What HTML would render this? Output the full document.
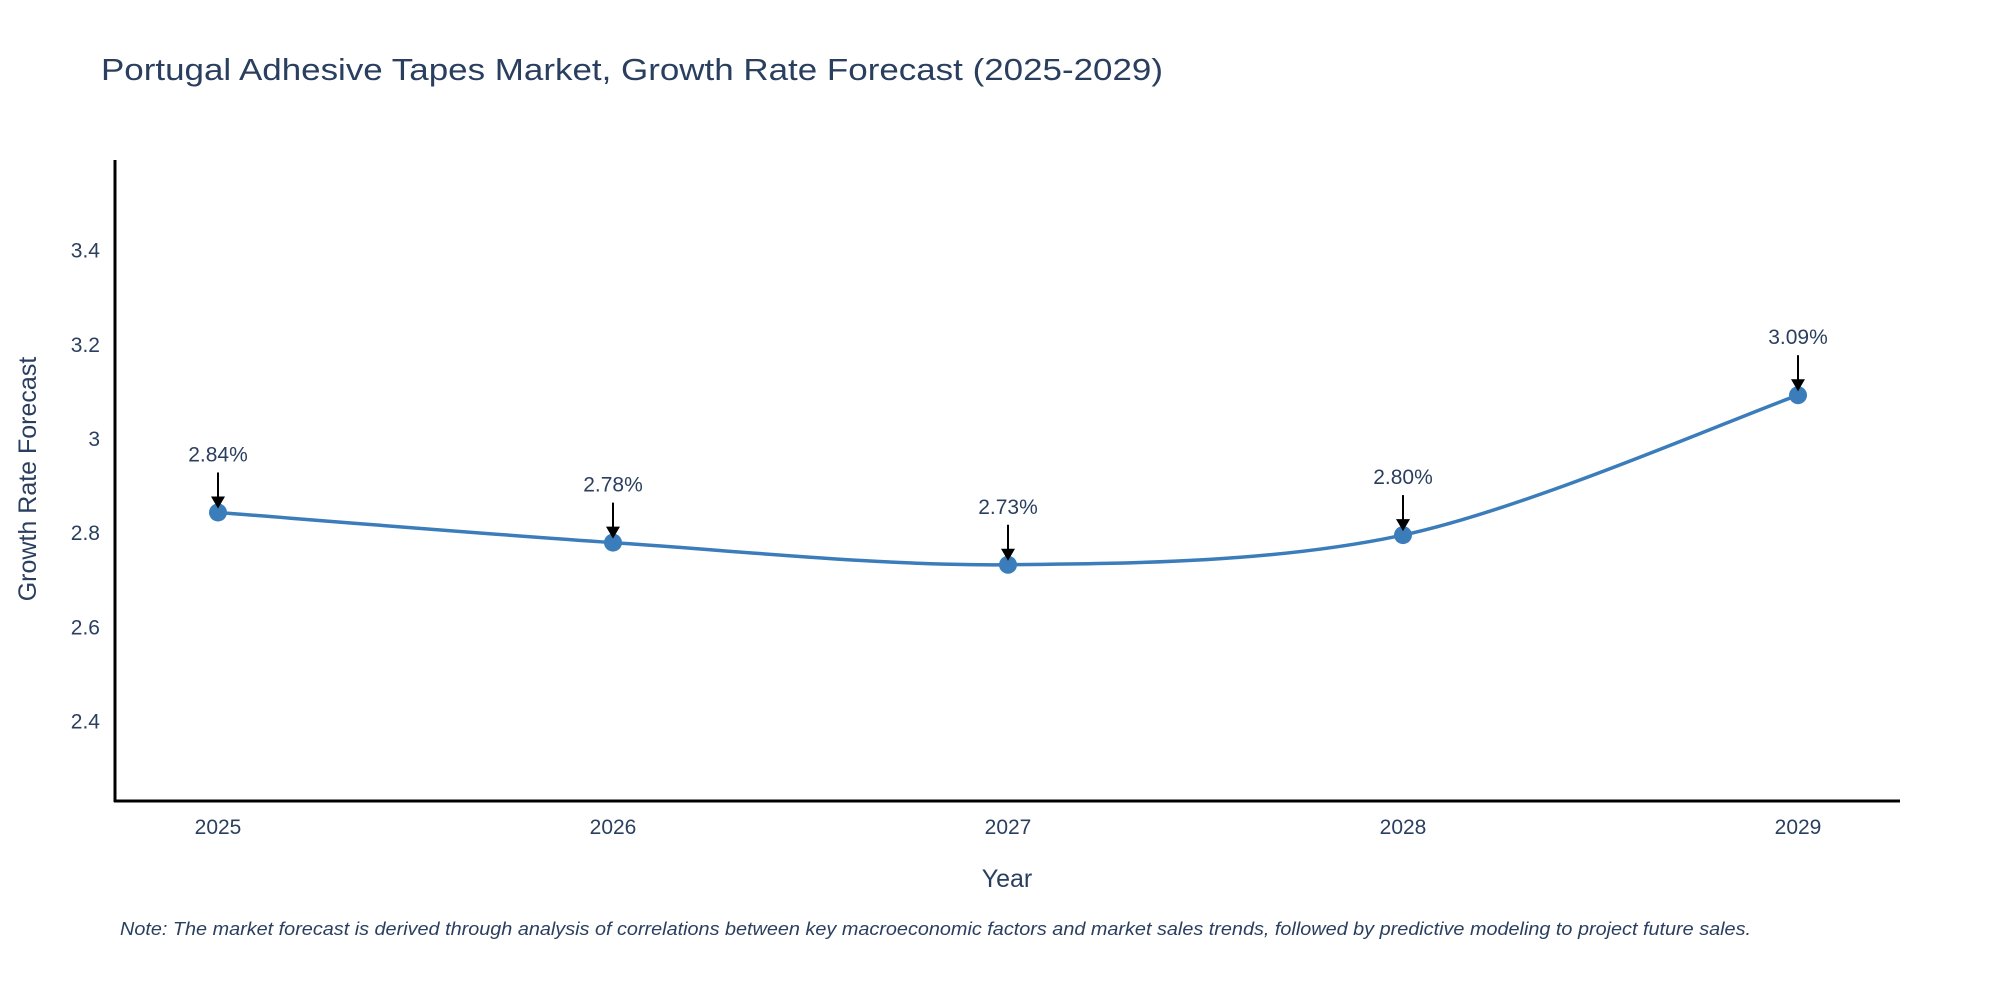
<!DOCTYPE html>
<html><head><meta charset="utf-8"><style>
html,body{margin:0;padding:0;background:#fff;}
svg{display:block;font-family:"Liberation Sans",sans-serif;}
</style></head><body>
<svg id="chart" width="2000" height="1000">
<text x="101" y="80" font-size="31" fill="#2a3f5f" textLength="1062" lengthAdjust="spacingAndGlyphs">Portugal Adhesive Tapes Market, Growth Rate Forecast (2025-2029)</text>
<g id="yticks"></g>
<g id="xticks"></g>
<line x1="115" y1="160" x2="115" y2="802" stroke="#000" stroke-width="3"/>
<line x1="114" y1="801" x2="1900" y2="801" stroke="#000" stroke-width="3"/>
<path id="line" fill="none" stroke="#3a7dba" stroke-width="3.5"/>
<g id="points"></g>
<g id="ann"></g>
<text x="36" y="479" font-size="25" fill="#2a3f5f" text-anchor="middle" transform="rotate(-90 36 479)">Growth Rate Forecast</text>
<text x="1007" y="887" font-size="25" fill="#2a3f5f" text-anchor="middle">Year</text>
<text x="120" y="935" font-size="18" font-style="italic" fill="#2a3f5f" textLength="1631" lengthAdjust="spacingAndGlyphs">Note: The market forecast is derived through analysis of correlations between key macroeconomic factors and market sales trends, followed by predictive modeling to project future sales.</text>
</svg>
<script>
const years = [2025, 2026, 2027, 2028, 2029];
const values = [2.844, 2.78, 2.733, 2.796, 3.093];
const valueLabels = ["2.84%", "2.78%", "2.73%", "2.80%", "3.09%"];
const yTickValues = [2.4, 2.6, 2.8, 3, 3.2, 3.4];
const yTickLabels = ["2.4", "2.6", "2.8", "3", "3.2", "3.4"];

const NS = "http://www.w3.org/2000/svg";
function xs(i){ return 218 + i * 395; }
function ys(v){ return 439 - (v - 3) * 471; }
function mk(tag, attrs, parent){ const e=document.createElementNS(NS,tag); for(const k in attrs) e.setAttribute(k,attrs[k]); parent.appendChild(e); return e; }

const yt=document.getElementById('yticks');
yTickValues.forEach((v,i)=>{
  const t=mk('text',{x:100,y:ys(v)+7,'font-size':21,fill:'#2a3f5f','text-anchor':'end'},yt);
  
  
  t.textContent=yTickLabels[i];
});
const xt=document.getElementById('xticks');
years.forEach((y,i)=>{
  const t=mk('text',{x:xs(i),y:834,'font-size':21,fill:'#2a3f5f','text-anchor':'middle'},xt);
  
  
  t.textContent=y;
});

// Catmull-Rom spline
const P=values.map((v,i)=>[xs(i),ys(v)]);
let d=`M${P[0][0]},${P[0][1]}`;
for(let i=0;i<P.length-1;i++){
  const p0=P[Math.max(0,i-1)],p1=P[i],p2=P[i+1],p3=P[Math.min(P.length-1,i+2)];
  const k=0.16;
  const c1=[p1[0]+(p2[0]-p0[0])*k,p1[1]+(p2[1]-p0[1])*k];
  const c2=[p2[0]-(p3[0]-p1[0])*k,p2[1]-(p3[1]-p1[1])*k];
  d+=` C${c1[0]},${c1[1]} ${c2[0]},${c2[1]} ${p2[0]},${p2[1]}`;
}
document.getElementById('line').setAttribute('d',d);

const pts=document.getElementById('points');
const ann=document.getElementById('ann');
values.forEach((v,i)=>{
  const c=mk('circle',{cx:xs(i),cy:ys(v),r:9,fill:'#3a7dba'},pts);
  
  
  const y=ys(v);
  const l=mk('line',{x1:xs(i),y1:y-40,x2:xs(i),y2:y-14,stroke:'#000','stroke-width':2},ann);
  
  
  const h=mk('path',{d:`M${xs(i)-7},${y-16} L${xs(i)+7},${y-16} L${xs(i)},${y-4} Z`,fill:'#000'},ann);
  
  
  const t=mk('text',{x:xs(i),y:y-51,'font-size':21,fill:'#2a3f5f','text-anchor':'middle'},ann);
  
  
  t.textContent=valueLabels[i];
});
</script>
</body></html>
